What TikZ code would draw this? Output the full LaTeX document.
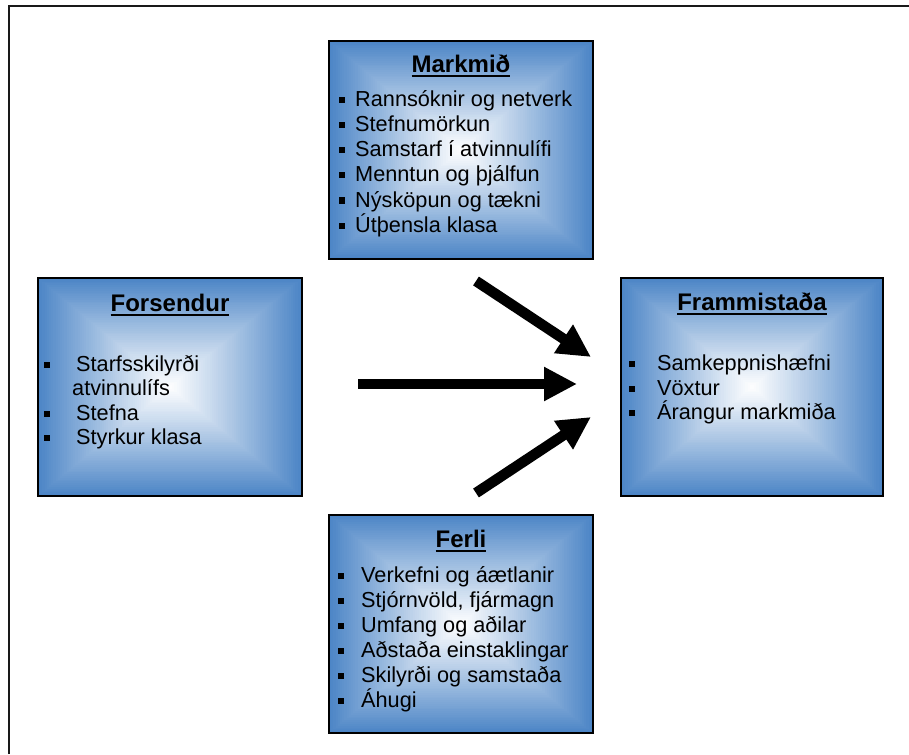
\documentclass[tikz,border=0pt]{standalone}
\usepackage{fontspec}
\setmainfont{Liberation Sans}
\usetikzlibrary{arrows.meta}
\definecolor{boxblue}{RGB}{76,133,198}
\newcommand\gradrect[4]{%
  \foreach \i in {0,...,60}{%
    \pgfmathsetmacro\tt{1-\i/60}%
    \pgfmathsetmacro\pp{100*(\tt)^1.05}%
    \fill[boxblue!\pp!white] ({#1-\tt*#3},{#2-\tt*#4}) rectangle ({#1+\tt*#3},{#2+\tt*#4});
  }}
\newcommand\myul[1]{\setbox0\hbox{#1}\rlap{\rule[-4.5pt]{\wd0}{2pt}}\box0}
\newcommand\bul[1]{\makebox[#1][l]{\raisebox{3.5pt}{\rule{6pt}{6pt}}}}
\tikzset{
  box/.style={draw=black, line width=2pt, inner sep=0pt},
  ttl/.style={anchor=base, inner sep=0pt, font=\bfseries\fontsize{24}{28}\selectfont},
  item/.style={anchor=base west, inner sep=0pt, font=\fontsize{21.7}{25}\selectfont},
  bigarrow/.style={line width=10.5pt, -{Triangle[length=33pt,width=32pt]}},
  frame/.style={line width=2pt, draw=black!90}
}
\begin{document}
\begin{tikzpicture}[x=1pt,y=-1pt]
\useasboundingbox (0,0) rectangle (909,754);
% outer frame (only top and left visible)
\draw[frame] (9,754) -- (9,6) -- (909,6);

% gradients
\gradrect{461}{150}{132}{109}
\gradrect{170}{387}{132}{109}
\gradrect{752}{387}{131}{109}
\gradrect{461}{624}{132}{109}

% boxes
\node[box, minimum width=264pt, minimum height=218pt] (markmid) at (461,150) {};
\node[box, minimum width=264pt, minimum height=218pt] (forsendur) at (170,387) {};
\node[box, minimum width=262pt, minimum height=218pt] (frammistada) at (752,387) {};
\node[box, minimum width=264pt, minimum height=218pt] (ferli) at (461,624) {};

% Markmið
\node[ttl] (mt) at (461,73) {\myul{Markmið}};
\foreach \txt [count=\k] in {Rannsóknir og netverk, Stefnumörkun, Samstarf í atvinnulífi, Menntun og þjálfun, Nýsköpun og tækni, Útþensla klasa}
  \node[item] (m\k) at (339,{107+25*(\k-1)}) {\bul{16pt}\txt};

% Forsendur
\node[ttl] (ft) at (170,311) {\myul{Forsendur}};
\node[item] (f1) at (44,371) {\bul{32pt}Starfsskilyrði};
\node[item] (f2) at (72,395) {atvinnulífs};
\node[item] (f3) at (44,420) {\bul{32pt}Stefna};
\node[item] (f4) at (44,444) {\bul{32pt}Styrkur klasa};

% Frammistaða
\node[ttl] (rt) at (752,310) {\myul{Frammistaða}};
\node[item] (r1) at (629,370) {\bul{28pt}Samkeppnishæfni};
\node[item] (r2) at (629,395) {\bul{28pt}Vöxtur};
\node[item] (r3) at (629,419) {\bul{28pt}Árangur markmiða};

% Ferli
\node[ttl] (et) at (461,547) {\myul{Ferli}};
\foreach \txt [count=\k] in {Verkefni og áætlanir, {Stjórnvöld, fjármagn}, Umfang og aðilar, Aðstaða einstaklingar, Skilyrði og samstaða, Áhugi}
  \node[item] (e\k) at (338,{582+25*(\k-1)}) {\bul{23pt}\txt};

% arrows
\coordinate (a1s) at (476,281);
\coordinate (a1e) at (591,357);
\coordinate (a2s) at (358,384);
\coordinate (a2e) at (577,384);
\coordinate (a3s) at (476,493);
\coordinate (a3e) at (591,417);
\draw[bigarrow] (a1s) -- (a1e);
\draw[bigarrow] (a2s) -- (a2e);
\draw[bigarrow] (a3s) -- (a3e);
\end{tikzpicture}
\end{document}
